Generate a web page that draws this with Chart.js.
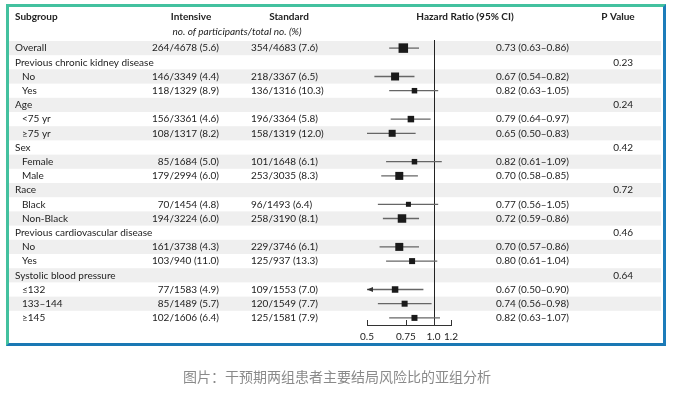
<!DOCTYPE html>
<html>
<head>
<meta charset="utf-8">
<script src="https://cdn.jsdelivr.net/npm/chart.js@4"></script>
<style>
  body { margin: 0; background: #fff; width: 674px; height: 393px; position: relative; overflow: hidden; }
  .frame { position: absolute; left: 6px; top: 4px; width: 654px; height: 336px;
           border-style: solid; border-width: 3px; border-color: #43c19f #1c7cba #1a78b4 #43c19f; }
  #forest { position: absolute; left: 0; top: 0; }
  .caption { position: absolute; left: 0; width: 674px; top: 366px; text-align: center;
             font: 14px "Noto Sans CJK SC"; color: #8a8a8a; }
</style>
</head>
<body>
<div class="frame"></div>
<canvas id="forest" width="674" height="393"></canvas>
<div class="caption">图片：干预期两组患者主要结局风险比的亚组分析</div>
<script>
const subgroups = ['Overall', 'Previous chronic kidney disease', 'No', 'Yes', 'Age', '<75 yr', '≥75 yr',
  'Sex', 'Female', 'Male', 'Race', 'Black', 'Non-Black', 'Previous cardiovascular disease', 'No', 'Yes',
  'Systolic blood pressure', '≤132', '133–144', '≥145'];
const indented = [0, 0, 1, 1, 0, 1, 1, 0, 1, 1, 0, 1, 1, 0, 1, 1, 0, 1, 1, 1];
const intensive = ['264/4678 (5.6)', '', '146/3349 (4.4)', '118/1329 (8.9)', '', '156/3361 (4.6)', '108/1317 (8.2)',
  '', '85/1684 (5.0)', '179/2994 (6.0)', '', '70/1454 (4.8)', '194/3224 (6.0)', '', '161/3738 (4.3)', '103/940 (11.0)',
  '', '77/1583 (4.9)', '85/1489 (5.7)', '102/1606 (6.4)'];
const standard = ['354/4683 (7.6)', '', '218/3367 (6.5)', '136/1316 (10.3)', '', '196/3364 (5.8)', '158/1319 (12.0)',
  '', '101/1648 (6.1)', '253/3035 (8.3)', '', '96/1493 (6.4)', '258/3190 (8.1)', '', '229/3746 (6.1)', '125/937 (13.3)',
  '', '109/1553 (7.0)', '120/1549 (7.7)', '125/1581 (7.9)'];
const hazard = [0.73, null, 0.67, 0.82, null, 0.79, 0.65, null, 0.82, 0.70, null, 0.77, 0.72, null, 0.70, 0.80, null, 0.67, 0.74, 0.82];
const ciLow  = [0.63, null, 0.54, 0.63, null, 0.64, 0.50, null, 0.61, 0.58, null, 0.56, 0.59, null, 0.57, 0.61, null, 0.50, 0.56, 0.63];
const ciHigh = [0.86, null, 0.82, 1.05, null, 0.97, 0.83, null, 1.09, 0.85, null, 1.05, 0.86, null, 0.86, 1.04, null, 0.90, 0.98, 1.07];
const pValues = ['', '0.23', '', '', '0.24', '', '', '0.42', '', '', '0.72', '', '', '0.46', '', '', '0.64', '', '', ''];
const xTickValues = [0.5, 0.75, 1.0, 1.2];
const xTickLabels = ['0.5', '0.75', '1.0', '1.2'];

// marker side in px per row (weight of the subgroup), arrow where CI runs off the axis
const boxSide = [9.5, 0, 8, 5.5, 0, 6.5, 7, 0, 5.5, 8, 0, 5, 8.5, 0, 8, 6, 0, 6.5, 6, 6];
const arrowLeft = [17];

const FONT = 'Lato, "DejaVu Sans", sans-serif';
const INK = '#222';

const points = [];
const radii = [];
hazard.forEach((v, i) => {
  if (v !== null) {
    points.push({ x: v, y: i });
    radii.push(boxSide[i] * Math.SQRT1_2);
  }
});

const forestPlugin = {
  id: 'forest',
  beforeDraw(chart) {
    const ctx = chart.ctx;
    const y = chart.scales.y;
    ctx.save();
    // zebra rows
    ctx.fillStyle = '#efefef';
    subgroups.forEach((s, i) => {
      if (i % 2 === 0) {
        const top = y.getPixelForValue(i - 0.5);
        const bot = y.getPixelForValue(i + 0.5);
        ctx.fillRect(9, top, 652, bot - top);
      }
    });
    // headers
    ctx.fillStyle = INK;
    ctx.textBaseline = 'middle';
    ctx.font = 'bold 10px ' + FONT;
    ctx.textAlign = 'left';
    ctx.fillText('Subgroup', 15, 17);
    ctx.textAlign = 'center';
    ctx.fillText('Intensive', 191, 17);
    ctx.fillText('Standard', 289, 17);
    ctx.fillText('Hazard Ratio (95% CI)', 465, 17);
    ctx.fillText('P Value', 618, 17);
    ctx.font = 'italic 10px ' + FONT;
    ctx.fillText('no. of participants/total no. (%)', 237, 32);
    // rows
    ctx.font = '10px ' + FONT;
    subgroups.forEach((s, i) => {
      const py = y.getPixelForValue(i);
      ctx.textAlign = 'left';
      ctx.fillText(s, indented[i] ? 22 : 15, py);
      ctx.fillText(standard[i], 251, py);
      if (hazard[i] !== null) {
        ctx.fillText(hazard[i].toFixed(2) + ' (' + ciLow[i].toFixed(2) + '–' + ciHigh[i].toFixed(2) + ')', 496, py);
      }
      ctx.textAlign = 'right';
      ctx.fillText(intensive[i], 219, py);
      ctx.fillText(pValues[i], 633, py);
    });
    ctx.restore();
  },
  beforeDatasetsDraw(chart) {
    const ctx = chart.ctx;
    const x = chart.scales.x;
    const y = chart.scales.y;
    ctx.save();
    // line of no effect
    const x1 = x.getPixelForValue(1.0);
    ctx.strokeStyle = INK;
    ctx.lineWidth = 1;
    ctx.beginPath();
    ctx.moveTo(Math.round(x1) + 0.5, 40);
    ctx.lineTo(Math.round(x1) + 0.5, chart.chartArea.bottom);
    ctx.stroke();
    // confidence intervals
    ctx.strokeStyle = '#666';
    ctx.fillStyle = '#333';
    ctx.lineWidth = 1.3;
    hazard.forEach((v, i) => {
      if (v === null) return;
      const py = y.getPixelForValue(i);
      const a = x.getPixelForValue(ciLow[i]);
      const b = x.getPixelForValue(ciHigh[i]);
      ctx.beginPath();
      ctx.moveTo(a, py);
      ctx.lineTo(b, py);
      ctx.stroke();
      if (arrowLeft.includes(i)) {
        ctx.beginPath();
        ctx.moveTo(a, py);
        ctx.lineTo(a + 6, py - 2.5);
        ctx.lineTo(a + 6, py + 2.5);
        ctx.closePath();
        ctx.fill();
      }
    });
    ctx.restore();
  },
  afterDraw(chart) {
    const ctx = chart.ctx;
    const x = chart.scales.x;
    const bottom = chart.chartArea.bottom;
    ctx.save();
    ctx.strokeStyle = '#333';
    ctx.lineWidth = 1;
    xTickValues.forEach(v => {
      const px = Math.round(x.getPixelForValue(v)) + 0.5;
      ctx.beginPath();
      ctx.moveTo(px, bottom);
      ctx.lineTo(px, bottom - 5);
      ctx.stroke();
    });
    ctx.restore();
  }
};

new Chart(document.getElementById('forest'), {
  type: 'scatter',
  data: {
    datasets: [{
      data: points,
      pointStyle: 'rect',
      pointRadius: radii,
      pointHoverRadius: radii,
      backgroundColor: '#1a1a1a',
      borderColor: '#1a1a1a',
      borderWidth: 0
    }]
  },
  options: {
    responsive: false,
    animation: false,
    devicePixelRatio: 1,
    layout: { padding: { left: 367, right: 223, top: 41, bottom: 48 } },
    plugins: { legend: { display: false }, tooltip: { enabled: false } },
    scales: {
      x: {
        type: 'logarithmic',
        min: 0.5,
        max: 1.2,
        afterBuildTicks: scale => { scale.ticks = xTickValues.map(v => ({ value: v })); },
        afterFit: scale => { scale.height = 20; },
        grid: { display: false, drawTicks: false },
        border: { display: true, color: '#333', width: 1 },
        ticks: {
          autoSkip: false,
          maxRotation: 0,
          padding: 6,
          color: INK,
          font: { family: FONT, size: 10 },
          callback: (v, i) => xTickLabels[i]
        }
      },
      y: {
        type: 'linear',
        min: -0.5,
        max: 19.5,
        reverse: true,
        display: false
      }
    }
  },
  plugins: [forestPlugin]
});
</script>
</body>
</html>
